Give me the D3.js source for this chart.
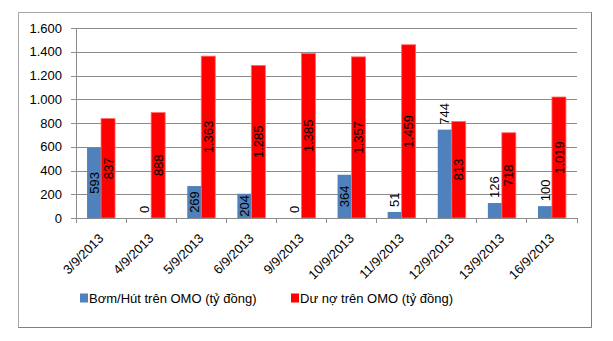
<!DOCTYPE html>
<html>
<head>
<meta charset="utf-8">
<script src="https://cdn.jsdelivr.net/npm/d3@7"></script>
<style>
body { margin: 0; background: #fff; }
text { font-family: "Liberation Sans", Arial, sans-serif; }
</style>
</head>
<body>
<div id="chart"></div>
<script>
// data
var dates = ["3/9/2013", "4/9/2013", "5/9/2013", "6/9/2013", "9/9/2013",
             "10/9/2013", "11/9/2013", "12/9/2013", "13/9/2013", "16/9/2013"]
var bomHut = [593, 0, 269, 204, 0, 364, 51, 744, 126, 100]
var duNo = [837, 888, 1363, 1285, 1385, 1357, 1459, 813, 718, 1019]
var seriesNames = ["Bơm/Hút trên OMO (tỷ đồng)", "Dư nợ trên OMO (tỷ đồng)"]
var yTicks = [0, 200, 400, 600, 800, 1000, 1200, 1400, 1600]
// where the blue labels sit: in the bar or above it
var bomHutLabelPos = ["center", "above", "center", "center", "above", "center", "above", "above", "above", "above"]

var W = 613, H = 341
var plot = {left: 76, right: 577, top: 28, bottom: 218}
var blue = "#4f81bd", red = "#ff0000"

var vn = d3.formatLocale({decimal: ",", thousands: ".", grouping: [3], currency: ["", ""]})
var fmt = vn.format(",d")

var svg = d3.select("#chart").append("svg")
    .attr("width", W).attr("height", H)

// chart frame
svg.append("rect")
    .attr("x", 18.5).attr("y", 12.5)
    .attr("width", 573).attr("height", 315)
    .style("fill", "#fff").style("stroke", "#a6a6a6")
svg.append("path")
    .attr("d", "M591.5,12.5 L591.5,327.5 L18.5,327.5")
    .style("fill", "none").style("stroke", "#7f7f7f")

var x0 = d3.scaleBand().domain(dates).range([plot.left, plot.right]).padding(0)
var x1 = d3.scaleBand().domain([0, 1]).range([0, x0.bandwidth()])
    .paddingInner(0).paddingOuter(0.79)
var y = d3.scaleLinear().domain([0, 1600]).range([plot.bottom, plot.top])

// gridlines
svg.append("g")
    .attr("transform", "translate(" + plot.left + ",0)")
    .call(d3.axisLeft(y).tickValues(yTicks).tickSize(-(plot.right - plot.left)).tickFormat(""))
    .call(function(g) { g.select(".domain").remove() })
    .selectAll("line").style("stroke", "#8c8c8c").attr("shape-rendering", "crispEdges")

// y axis
var yAxis = svg.append("g")
    .attr("transform", "translate(" + plot.left + ",0)")
    .call(d3.axisLeft(y).tickValues(yTicks).tickSize(5).tickPadding(9).tickFormat(fmt))
yAxis.selectAll("line, path").style("stroke", "#8c8c8c").attr("shape-rendering", "crispEdges")
yAxis.selectAll("text").style("font-size", "13px").style("fill", "#000")

// bars
var groups = svg.selectAll(".grp").data(dates).enter().append("g")
    .attr("class", "grp")
    .attr("transform", function(d) { return "translate(" + x0(d) + ",0)" })

groups.append("rect")
    .attr("x", x1(0)).attr("width", x1.bandwidth())
    .attr("y", function(d, i) { return y(bomHut[i]) })
    .attr("height", function(d, i) { return y(0) - y(bomHut[i]) })
    .style("fill", blue)

groups.append("rect")
    .attr("x", x1(1)).attr("width", x1.bandwidth())
    .attr("y", function(d, i) { return y(duNo[i]) })
    .attr("height", function(d, i) { return y(0) - y(duNo[i]) })
    .style("fill", red).style("stroke", "#ff6b6b").style("stroke-width", 0.8)

// x axis
var xAxis = svg.append("g")
    .attr("transform", "translate(0," + plot.bottom + ")")
xAxis.append("line")
    .attr("x1", plot.left).attr("x2", plot.right)
    .style("stroke", "#8c8c8c").attr("shape-rendering", "crispEdges")
xAxis.selectAll(".tk").data(d3.range(dates.length + 1)).enter().append("line")
    .attr("x1", function(i) { return plot.left + i * x0.step() })
    .attr("x2", function(i) { return plot.left + i * x0.step() })
    .attr("y1", 0).attr("y2", 5)
    .style("stroke", "#8c8c8c").attr("shape-rendering", "crispEdges")
xAxis.selectAll(".lbl").data(dates).enter().append("text")
    .attr("transform", function(d) {
        return "translate(" + (x0(d) + x0.bandwidth() / 2) + ",18) rotate(-45)"
    })
    .attr("text-anchor", "end")
    .attr("dy", "0.35em")
    .style("font-size", "13px")
    .text(function(d) { return d })

// value labels
function vLabel(g, val, sIdx, pos) {
    var cx = x1(sIdx) + x1.bandwidth() / 2
    var t = g.append("text")
        .attr("dy", "0.35em")
        .style("font-size", "13px")
        .style("fill", "#000")
        .text(fmt(val))
    if (pos == "above") {
        t.attr("text-anchor", "start")
            .attr("transform", "translate(" + cx + "," + (y(val) - 5) + ") rotate(-90)")
    } else {
        t.attr("text-anchor", "middle")
            .attr("transform", "translate(" + cx + "," + (y(val) + y(0)) / 2 + ") rotate(-90)")
    }
}
groups.each(function(d, i) {
    var g = d3.select(this)
    vLabel(g, bomHut[i], 0, bomHutLabelPos[i])
    vLabel(g, duNo[i], 1, "center")
})

// legend
var legend = svg.append("g").attr("transform", "translate(80,298)")
var legX = [0, 211]
seriesNames.forEach(function(name, i) {
    legend.append("rect")
        .attr("x", legX[i]).attr("y", -4.5)
        .attr("width", 8).attr("height", 9)
        .style("fill", i == 0 ? blue : red)
    legend.append("text")
        .attr("x", legX[i] + 9).attr("y", 0)
        .attr("dy", "0.35em")
        .style("font-size", "13px")
        .text(name)
})
</script>
</body>
</html>
